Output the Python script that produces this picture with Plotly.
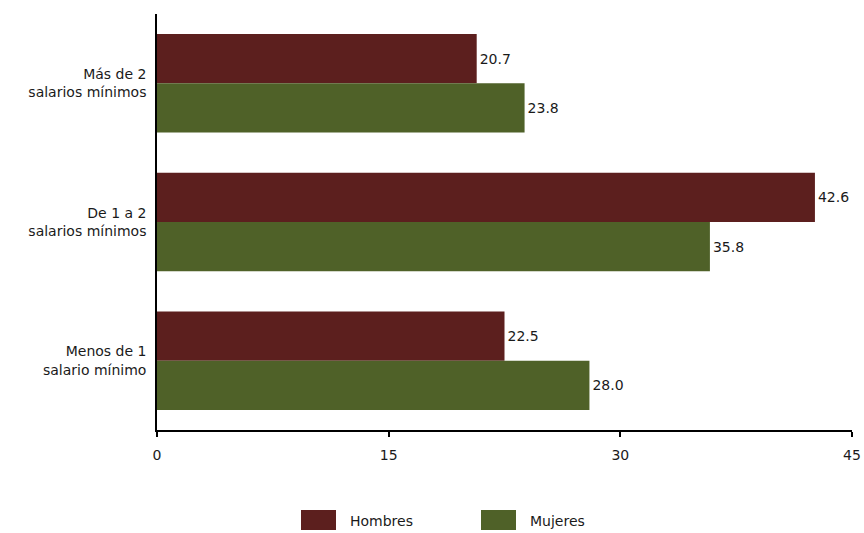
import plotly.graph_objects as go

# Income brackets (top to bottom) and shares by sex (%)
categorias = [
    "Más de 2<br>salarios mínimos",
    "De 1 a 2<br>salarios mínimos",
    "Menos de 1<br>salario mínimo",
]
hombres = [20.7, 42.6, 22.5]
mujeres = [23.8, 35.8, 28.0]
ticks_x = [0, 15, 30, 45]

COLOR_H = "#5C1F1E"
COLOR_M = "#4F6128"
FONT = "DejaVu Sans, Verdana, sans-serif"
FS = 14
TXT = "#1a1a1a"

fig = go.Figure()
for nombre, valores, color in (("Hombres", hombres, COLOR_H), ("Mujeres", mujeres, COLOR_M)):
    fig.add_trace(go.Bar(
        y=categorias, x=valores, orientation="h", name=nombre,
        marker=dict(color=color, line=dict(width=0)),
        text=[f"{v:.1f}" for v in valores], textposition="outside",
        textfont=dict(family=FONT, size=FS, color=TXT), cliponaxis=False,
    ))

fig.update_layout(
    width=864, height=533,
    margin=dict(l=157, r=12, t=14, b=103, autoexpand=False),
    paper_bgcolor="white", plot_bgcolor="white",
    barmode="group", bargap=0.29, bargroupgap=0,
    showlegend=False,
    font=dict(family=FONT, size=FS, color=TXT),
    xaxis=dict(
        range=[0, 45], tickvals=ticks_x, ticktext=[str(t) for t in ticks_x],
        showgrid=False, zeroline=False, automargin=False,
        showline=True, linecolor="black", linewidth=1.5,
        ticks="outside", ticklen=5, tickwidth=1.5, tickcolor="black",
        ticklabelstandoff=6,
        tickfont=dict(family=FONT, size=FS, color=TXT),
    ),
    yaxis=dict(
        autorange="reversed", showgrid=False, zeroline=False, automargin=False,
        showline=True, linecolor="black", linewidth=1.5,
        ticks="", ticklabelstandoff=6,
        tickfont=dict(family=FONT, size=FS, color=TXT),
    ),
)

# Legend keys drawn below the plot
leyenda = [("Hombres", COLOR_H, 301), ("Mujeres", COLOR_M, 481)]
for nombre, color, x0 in leyenda:
    fig.add_shape(type="rect", xref="paper", yref="paper",
                  x0=(x0 - 157) / 695, x1=(x0 + 35 - 157) / 695,
                  y0=(430 - 530) / 416, y1=(430 - 510) / 416,
                  fillcolor=color, line=dict(width=0))
    fig.add_annotation(text=nombre, xref="paper", yref="paper",
                       x=(x0 + 47 - 157) / 695, y=(430 - 521) / 416,
                       xanchor="left", yanchor="middle", showarrow=False,
                       font=dict(family=FONT, size=FS, color=TXT))

fig.write_html("out.html")
